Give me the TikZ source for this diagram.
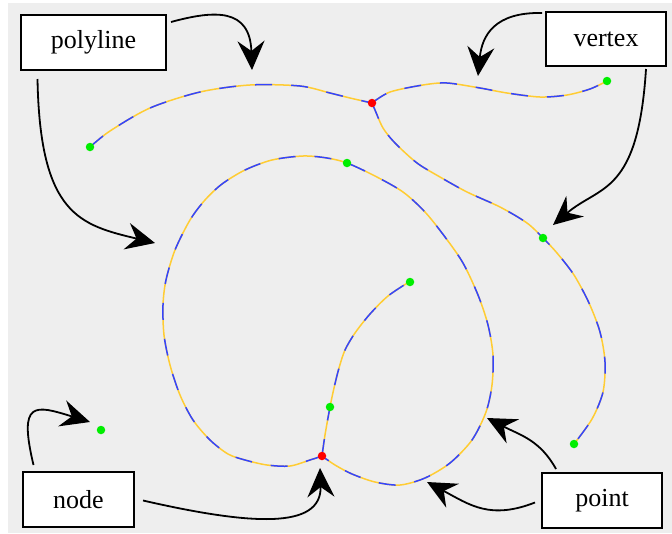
\documentclass[tikz,border=0pt]{standalone}
\usepackage{fontspec}
\setmainfont{Liberation Serif}
\usetikzlibrary{arrows.meta}
\definecolor{bggray}{HTML}{EEEEEE}
\definecolor{segyellow}{HTML}{FFCC33}
\definecolor{segblue}{HTML}{3344FF}
\definecolor{ptgreen}{HTML}{00EE00}
\definecolor{ptred}{HTML}{FF0000}
\tikzset{
  label box/.style={draw=black, line width=2pt, fill=white, inner sep=0pt,
    font=\fontsize{26}{30}\selectfont},
  poly base/.style={segyellow, line width=1.5pt},
  poly seg/.style={segblue, line width=1.5pt, dash pattern=on 17pt off 19pt},
  endpoint/.style={circle, fill=ptgreen, inner sep=0pt, minimum size=8.5pt},
  junction/.style={circle, fill=ptred, inner sep=0pt, minimum size=8.5pt},
  pointer/.style={black, line width=1.8pt,
    -{Stealth[length=29pt, width=27pt, inset=10pt]}}
}
\newcommand{\segmented}[1]{%
  \draw[poly base] plot[smooth] coordinates {#1};
  \draw[poly seg] plot[smooth] coordinates {#1};}
\begin{document}
\begin{tikzpicture}[x=1pt, y=-1pt]
  \useasboundingbox (0,0) rectangle (672,533);
  \fill[white] (0,0) rectangle (672,533);
  \fill[bggray] (8,3) rectangle (672,533);

  % polylines
  \segmented{(90,147) (110,131) (150,108) (200,92) (250,85) (300,86) (330,93) (350,98) (372,103)}
  \segmented{(372,103) (390,92) (423,85) (447,83) (480,88) (507,93) (540,97) (567,95) (590,89) (607,81)}
  \segmented{(372,103) (375,110) (383,128) (395,143) (417,163) (440,177) (467,192) (500,207) (527,223) (543,238) (557,253) (574,275) (589,303) (600,332) (605,362) (603,392) (592,419) (574,444)}
  \segmented{(322,456) (310,460) (290,466) (267,465) (245,460) (228,454) (210,440) (193,420) (180,395) (170,365) (164,335) (163,305) (166,280) (175,250) (190,220) (205,200) (222,184) (245,170) (272,160) (303,156) (327,158) (347,163) (375,176) (403,192) (425,212) (445,237) (463,263) (478,295) (488,325) (493,355) (492,385) (486,412) (472,440) (450,463) (425,478) (400,485) (375,482) (352,474) (335,465) (322,456)}
  \segmented{(322,456) (325,435) (330,407) (334,388) (339,368) (345,350) (355,333) (370,314) (388,296) (409,282)}

  % vertices
  \node[junction] (j1) at (372,103) {};
  \node[junction] (j2) at (322,456) {};
  \node[endpoint] (e1) at (90,147) {};
  \node[endpoint] (e2) at (607,81) {};
  \node[endpoint] (e3) at (347,163) {};
  \node[endpoint] (e4) at (543,238) {};
  \node[endpoint] (e5) at (410,282) {};
  \node[endpoint] (e6) at (330,407) {};
  \node[endpoint] (lone) at (101,430) {};
  \node[endpoint] (e7) at (574,444) {};

  % labels
  \node[label box, minimum width=145pt, minimum height=55pt] (polyline) at (93.5,42.5) {polyline};
  \node[label box, minimum width=120pt, minimum height=54pt] (vertex) at (606,39) {vertex};
  \node[label box, minimum width=111pt, minimum height=55pt] (nodebox) at (78.5,499.5) {node};
  \node[label box, minimum width=120pt, minimum height=55pt] (pointbox) at (602,500.5) {point};

  % arrow targets
  \coordinate (tA) at (252,70);
  \coordinate (tB) at (155,243);
  \coordinate (tC) at (478,76);
  \coordinate (tD) at (553,225);
  \coordinate (tE) at (90,422);
  \coordinate (tF) at (320,468);
  \coordinate (tG) at (487,418);
  \coordinate (tH) at (427,482);

  % pointers
  \draw[pointer] ([xshift=4pt,yshift=-8pt]polyline.north east) .. controls (215,10) and (250,8) .. (tA);
  \draw[pointer] ([xshift=-56pt,yshift=-8pt]polyline.south) .. controls (40,215) and (80,225) .. (tB);
  \draw[pointer] ([xshift=-3pt,yshift=-2pt]vertex.north west) .. controls (495,12) and (482,35) .. (tC);
  \draw[pointer] ([xshift=40pt,yshift=-2pt]vertex.south) .. controls (638,195) and (600,185) .. (tD);
  \draw[pointer] ([xshift=-45pt,yshift=6pt]nodebox.north) .. controls (18,400) and (35,405) .. (tE);
  \draw[pointer] ([xshift=8pt,yshift=-1pt]nodebox.east) .. controls (250,525) and (322,530) .. (tF);
  \draw[pointer] ([xshift=-46pt,yshift=3pt]pointbox.north) .. controls (540,440) and (520,435) .. (tG);
  \draw[pointer] ([xshift=-6pt,yshift=-2pt]pointbox.west) .. controls (490,520) and (470,505) .. (tH);
\end{tikzpicture}
\end{document}
